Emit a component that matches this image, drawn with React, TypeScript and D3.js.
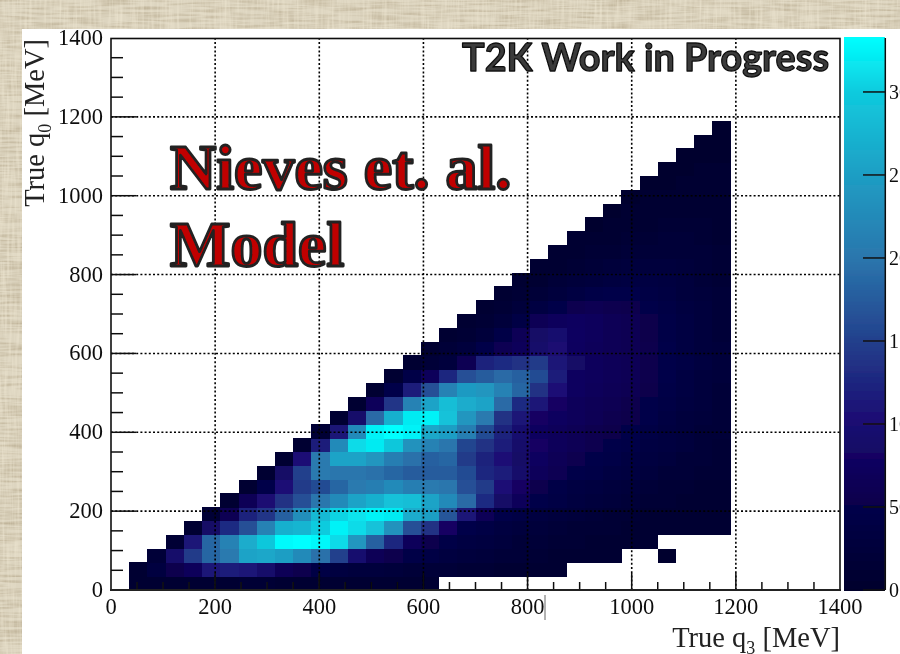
import React from "react";
import * as d3 from "d3";

// Bin edges: 35 MeV wide on both axes. Row r covers q0 in [35r, 35(r+1)).
const binWidth = 35;
// First x-column index of each row is max(r, 1). 0 = empty bin.
const row00 = [8,10,12,12,12,12,14,14,12,12,12,10,10,10,8,8,8];
const row01 = [8,35,55,70,110,115,110,90,65,55,40,35,30,28,25,22,20,18,16,14,12,10,10,8];
const row02 = [20,90,145,185,205,255,260,250,225,195,150,95,65,55,45,40,35,30,25,20,18,15,12,10,8,8,0,0,5];
const row03 = [15,110,185,215,265,295,330,333,328,310,240,180,125,70,55,45,38,32,26,22,18,15,13,12,10,10,8];
const row04 = [12,85,130,165,215,270,275,300,325,310,290,235,165,135,80,50,42,35,28,24,20,17,15,13,11,10,9,8,7,6];
const row05 = [15,60,120,140,180,230,280,305,315,325,320,265,250,170,110,65,48,40,34,28,24,20,17,15,12,11,10,8,7];
const row06 = [12,65,100,135,165,200,225,255,270,290,285,255,225,190,130,85,70,50,40,34,28,24,20,16,14,12,10,8];
const row07 = [10,50,105,145,160,185,205,210,225,210,205,200,165,145,105,80,55,45,38,33,28,24,20,17,14,12,10];
const row08 = [12,85,150,205,200,200,195,185,175,175,175,160,125,115,90,70,60,50,44,38,32,27,22,18,16,14];
const row09 = [10,105,205,255,255,240,210,195,180,185,145,120,105,85,75,65,58,50,44,38,32,27,22,18,15];
const row10 = [10,115,225,310,320,295,235,215,200,155,135,115,90,80,70,62,56,50,44,38,32,26,20,16];
const row11 = [15,110,225,325,333,325,260,250,210,160,120,95,75,70,64,58,52,46,40,34,28,22,18];
const row12 = [12,90,190,270,320,325,290,240,205,135,110,80,75,70,64,58,52,46,38,30,24,18];
const row13 = [10,70,140,215,255,285,265,255,190,130,110,80,70,66,60,54,48,40,32,26,20];
const row14 = [12,50,115,165,215,245,240,215,185,135,105,75,70,66,60,52,44,36,28,22];
const row15 = [10,45,70,125,165,175,190,180,160,115,75,72,68,62,55,46,38,30,24];
const row16 = [12,20,30,60,120,130,135,145,110,85,72,68,62,55,48,40,32,25];
const row17 = [10,20,30,50,60,70,90,100,75,70,66,60,54,46,38,30,24];
const row18 = [8,15,25,45,65,85,95,78,72,66,60,52,44,36,28,22];
const row19 = [8,14,25,42,62,72,76,72,66,60,52,44,36,28,22];
const row20 = [8,14,24,38,50,58,60,58,54,48,40,32,26,20];
const row21 = [7,13,20,30,38,44,46,46,42,36,30,24,18];
const row22 = [7,12,18,24,30,34,36,36,32,28,22,16];
const row23 = [6,10,15,20,24,26,28,28,24,20,15];
const row24 = [6,9,13,17,20,22,22,22,18,14];
const row25 = [6,8,11,14,16,18,18,16,12];
const row26 = [5,7,9,11,13,14,14,11];
const row27 = [5,6,8,10,11,11,10];
const row28 = [5,6,7,8,9,8];
const row29 = [5,5,6,7,7];
const row30 = [4,5,6,6];
const row31 = [4,5,5];
const row32 = [4,4];
const row33 = [4];
const rows = [row00,row01,row02,row03,row04,row05,row06,row07,row08,row09,row10,row11,row12,row13,row14,row15,row16,row17,row18,row19,row20,row21,row22,row23,row24,row25,row26,row27,row28,row29,row30,row31,row32,row33];

const axisTicks = [0,200,400,600,800,1000,1200,1400];
const colorTicks = [0,50,100,150,200,250,300];
const colorStops = [0,50,100,150,200,250,300,333];
const colorValues = ["#00002c","#06004a","#1a0a72","#23408c","#2a76ad","#1e9ec4","#0fcbde","#00ffff"];

const x = d3.scaleLinear().domain([0,1400]).range([111,840]);
const y = d3.scaleLinear().domain([0,1400]).range([590,38]);
const cy = d3.scaleLinear().domain([0,332.5]).range([590,38]);
const color = d3.scaleLinear<string>().domain(colorStops).range(colorValues).interpolate(d3.interpolateRgb);
const minorX = d3.range(0,1401,50).filter(v => v % 200 !== 0);
const minorY = d3.range(0,1401,50).filter(v => v % 200 !== 0);
const serif = "'Liberation Serif', serif";

export default function App() {
  return (
    <svg width={900} height={654} viewBox="0 0 900 654" style={{position:"fixed",left:0,top:0,display:"block"}}>
      <defs>
        <filter id="soft" x="-2%" y="-2%" width="104%" height="104%"><feGaussianBlur stdDeviation="0.5"/></filter>
        <filter id="weaveH" x="0" y="0" width="100%" height="100%" colorInterpolationFilters="sRGB">
          <feTurbulence type="fractalNoise" baseFrequency="0.03 0.4" numOctaves={2} seed={4}/>
          <feColorMatrix values="0 0 0 0 0.66  0 0 0 0 0.60  0 0 0 0 0.48  1.1 0 0 0 -0.42"/>
        </filter>
        <filter id="weaveV" x="0" y="0" width="100%" height="100%" colorInterpolationFilters="sRGB">
          <feTurbulence type="fractalNoise" baseFrequency="0.4 0.03" numOctaves={2} seed={9}/>
          <feColorMatrix values="0 0 0 0 0.95  0 0 0 0 0.92  0 0 0 0 0.84  1.1 0 0 0 -0.42"/>
        </filter>
        <clipPath id="bands"><path d="M0 0H900V29H22V654H0Z"/></clipPath>
      </defs>
      <rect width={900} height={654} fill="#fff"/>
      <g filter="url(#soft)">
        <g shapeRendering="crispEdges">
          {rows.flatMap((row, r) => row.map((v, i) => {
            if (!v) return null;
            const k = Math.max(r,1) + i;
            const x0 = x(k*binWidth), x1 = x((k+1)*binWidth);
            const y1 = y(r*binWidth), y0 = y((r+1)*binWidth);
            return <rect key={`${r}-${k}`} x={x0} y={y0} width={x1-x0+0.4} height={y1-y0+0.4} fill={color(v)}/>;
          }))}
        </g>
        {/* grid */}
        <g stroke="#000" strokeWidth={1.6} strokeDasharray="2 2.2" fill="none">
          {axisTicks.slice(1,-1).map(t => <line key={t} x1={x(t)} x2={x(t)} y1={590} y2={38}/>)}
          {axisTicks.slice(1,-1).map(t => <line key={t} x1={111} x2={840} y1={y(t)} y2={y(t)}/>)}
        </g>
        {/* ticks */}
        <g stroke="#111" strokeWidth={1.5}>
          {axisTicks.slice(1,-1).map(t => <line key={t} x1={x(t)} x2={x(t)} y1={590} y2={573}/>)}
          {minorX.map(t => <line key={t} x1={x(t)} x2={x(t)} y1={590} y2={582}/>)}
          {axisTicks.slice(1,-1).map(t => <line key={t} x1={111} x2={136} y1={y(t)} y2={y(t)}/>)}
          {minorY.map(t => <line key={t} x1={111} x2={123} y1={y(t)} y2={y(t)}/>)}
        </g>
        <rect x={111} y={38.5} width={729} height={551.5} fill="none" stroke="#111" strokeWidth={1.6}/>
        <line x1={110} x2={841} y1={590} y2={590} stroke="#222" strokeWidth={2}/>
        <line x1={545} x2={545} y1={595} y2={620} stroke="#666" strokeWidth={1}/>
        {/* tick labels */}
        <g fontFamily={serif} fontSize={22.5} fill="#111">
          {axisTicks.map(t => <text key={t} x={103} y={y(t)+7} textAnchor="end">{t}</text>)}
          {axisTicks.map(t => <text key={t} x={x(t)} y={614} textAnchor="middle">{t}</text>)}
        </g>
        {/* colour bar */}
        <g shapeRendering="crispEdges">
          {d3.range(0,332.5,0.6).map(v => <rect key={v} x={844} y={cy(v+0.6)} width={41} height={cy(v)-cy(v+0.6)+0.5} fill={color(v)}/>)}
        </g>
        <line x1={885.3} x2={885.3} y1={38} y2={590} stroke="#111" strokeWidth={1.5}/>
        {colorTicks.map(t => <line key={t} x1={863} x2={885} y1={cy(t)} y2={cy(t)} stroke="#111" strokeWidth={1.5}/>)}
        <g fontFamily={serif} fontSize={20} fill="#111">
          {colorTicks.map(t => <text key={t} x={889} y={cy(t)+7}>{t}</text>)}
        </g>
        {/* axis titles */}
        <text x={840} y={647} textAnchor="end" fontFamily={serif} fontSize={28.5} fill="#222">True q<tspan dy={7} fontSize={18}>3</tspan><tspan dy={-7}> [MeV]</tspan></text>
        <text transform="translate(44,39) rotate(-90)" textAnchor="end" fontFamily={serif} fontSize={28.5} fill="#222">True q<tspan dy={7} fontSize={18}>0</tspan><tspan dy={-7}> [MeV]</tspan></text>
        {/* annotations */}
        <text x={462} y={71} fontFamily="Lato, sans-serif" fontWeight={700} fontSize={38} textLength={367} lengthAdjust="spacingAndGlyphs" fill="#3a3a3a" stroke="#111" strokeWidth={1.3} strokeLinejoin="round">T2K Work in Progress</text>
        <g fontFamily={serif} fontWeight={700} fontSize={64} fill="#c00000" stroke="#222" strokeWidth={2.8} strokeLinejoin="round">
          <text x={170} y={189}>Nieves et. al.</text>
          <text x={170} y={266}>Model</text>
        </g>
      </g>
      {/* woven slide background */}
      <g clipPath="url(#bands)">
        <rect width={900} height={654} fill="#ddd5c0"/>
        <rect width={900} height={654} filter="url(#weaveH)"/>
        <rect width={900} height={654} filter="url(#weaveV)"/>
      </g>
    </svg>
  );
}
